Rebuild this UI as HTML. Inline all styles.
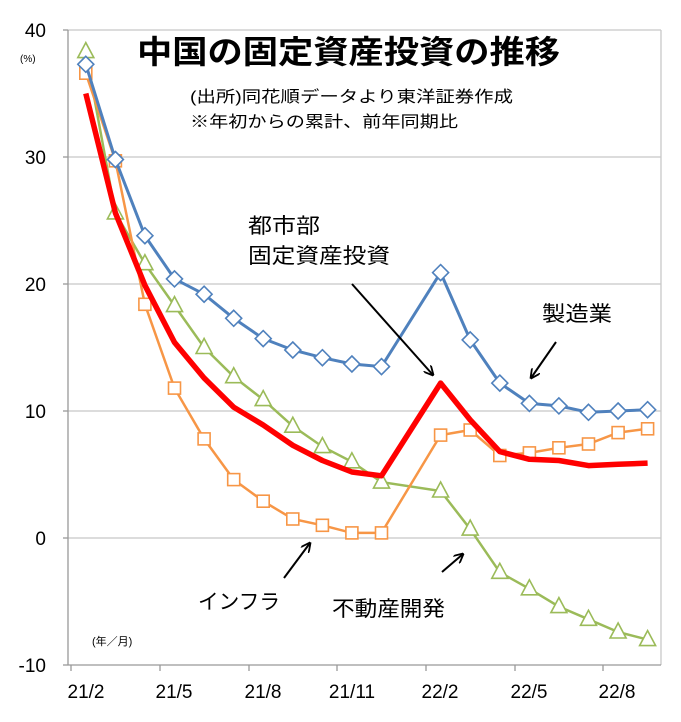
<!DOCTYPE html>
<html><head><meta charset="utf-8"><style>
html,body{margin:0;padding:0;background:#fff;}
svg{display:block;font-family:"Liberation Sans","Noto Sans CJK JP",sans-serif;}
</style></head><body>
<svg width="681" height="722" viewBox="0 0 681 722" xmlns="http://www.w3.org/2000/svg" xmlns:xlink="http://www.w3.org/1999/xlink">
<defs>
<marker id="ah" markerWidth="10" markerHeight="10" refX="9" refY="5" orient="auto" markerUnits="userSpaceOnUse">
<path d="M0,0 L10,5 L0,10" fill="none" stroke="#000" stroke-width="1.8"/></marker>
<polygon id="tri" points="0,-9 -8,6 8,6" fill="#fff" stroke="#9bbb59" stroke-width="1.6"/>
<rect id="sq" x="-6" y="-6" width="12" height="12" fill="#fff" stroke="#f79646" stroke-width="1.6"/>
<polygon id="dia" points="0,-8 8,0 0,8 -8,0" fill="#fff" stroke="#4f81bd" stroke-width="1.6"/>
</defs>
<rect x="0" y="0" width="681" height="722" fill="#fff"/>
<g stroke="#c8c8c8" stroke-width="1.3">
<line x1="68" y1="30" x2="661" y2="30"/>
<line x1="68" y1="157" x2="661" y2="157"/>
<line x1="68" y1="284" x2="661" y2="284"/>
<line x1="68" y1="411" x2="661" y2="411"/>
<line x1="68" y1="538" x2="661" y2="538"/>
<line x1="661" y1="30" x2="661" y2="665"/>
</g>
<g stroke="#999" stroke-width="1.3">
<line x1="68" y1="30" x2="68" y2="665"/>
<line x1="68" y1="665" x2="661" y2="665"/>
<line x1="63" y1="30" x2="68" y2="30"/><line x1="63" y1="157" x2="68" y2="157"/><line x1="63" y1="284" x2="68" y2="284"/><line x1="63" y1="411" x2="68" y2="411"/><line x1="63" y1="538" x2="68" y2="538"/><line x1="63" y1="665" x2="68" y2="665"/>
<line x1="71" y1="665" x2="71" y2="671"/><line x1="160" y1="665" x2="160" y2="671"/><line x1="249" y1="665" x2="249" y2="671"/><line x1="337" y1="665" x2="337" y2="671"/><line x1="426" y1="665" x2="426" y2="671"/><line x1="515" y1="665" x2="515" y2="671"/><line x1="603" y1="665" x2="603" y2="671"/>
</g>
<g font-size="19" fill="#000" text-anchor="end">
<text x="46" y="37">40</text><text x="46" y="164">30</text><text x="46" y="291">20</text><text x="46" y="418">10</text><text x="46" y="545">0</text><text x="46" y="672">-10</text>
</g>
<g font-size="19" fill="#000" text-anchor="middle">
<text x="86" y="698">21/2</text><text x="174" y="698">21/5</text><text x="263" y="698">21/8</text><text x="352" y="698">21/11</text><text x="440" y="698">22/2</text><text x="529" y="698">22/5</text><text x="617" y="698">22/8</text>
</g>
<text x="20" y="62" font-size="10">(%)</text>
<text x="92" y="645" font-size="11">(年／月)</text>

<polyline fill="none" stroke="#9bbb59" stroke-width="2.5" points="85.8,51.6 115.4,212.9 144.9,263.7 174.5,305.6 204.1,347.5 233.7,376.7 263.2,399.6 292.8,426.2 322.4,446.6 351.9,461.8 381.5,482.1 440.6,491.0 470.2,529.1 499.8,572.3 529.4,588.8 558.9,606.6 588.5,619.3 618.1,632.0 647.6,639.6"/>
<g>
<use xlink:href="#tri" x="85.8" y="51.6"/><use xlink:href="#tri" x="115.4" y="212.9"/><use xlink:href="#tri" x="144.9" y="263.7"/><use xlink:href="#tri" x="174.5" y="305.6"/><use xlink:href="#tri" x="204.1" y="347.5"/><use xlink:href="#tri" x="233.7" y="376.7"/><use xlink:href="#tri" x="263.2" y="399.6"/><use xlink:href="#tri" x="292.8" y="426.2"/><use xlink:href="#tri" x="322.4" y="446.6"/><use xlink:href="#tri" x="351.9" y="461.8"/><use xlink:href="#tri" x="381.5" y="482.1"/><use xlink:href="#tri" x="440.6" y="491.0"/><use xlink:href="#tri" x="470.2" y="529.1"/><use xlink:href="#tri" x="499.8" y="572.3"/><use xlink:href="#tri" x="529.4" y="588.8"/><use xlink:href="#tri" x="558.9" y="606.6"/><use xlink:href="#tri" x="588.5" y="619.3"/><use xlink:href="#tri" x="618.1" y="632.0"/><use xlink:href="#tri" x="647.6" y="639.6"/>
</g>

<polyline fill="none" stroke="#f79646" stroke-width="2.5" points="85.8,73.2 115.4,160.8 144.9,304.3 174.5,388.1 204.1,438.9 233.7,479.6 263.2,501.2 292.8,519.0 322.4,525.3 351.9,532.9 381.5,532.9 440.6,435.1 470.2,430.0 499.8,455.5 529.4,452.9 558.9,447.8 588.5,444.0 618.1,432.6 647.6,428.8"/>
<g>
<use xlink:href="#sq" x="85.8" y="73.2"/><use xlink:href="#sq" x="115.4" y="160.8"/><use xlink:href="#sq" x="144.9" y="304.3"/><use xlink:href="#sq" x="174.5" y="388.1"/><use xlink:href="#sq" x="204.1" y="438.9"/><use xlink:href="#sq" x="233.7" y="479.6"/><use xlink:href="#sq" x="263.2" y="501.2"/><use xlink:href="#sq" x="292.8" y="519.0"/><use xlink:href="#sq" x="322.4" y="525.3"/><use xlink:href="#sq" x="351.9" y="532.9"/><use xlink:href="#sq" x="381.5" y="532.9"/><use xlink:href="#sq" x="440.6" y="435.1"/><use xlink:href="#sq" x="470.2" y="430.0"/><use xlink:href="#sq" x="499.8" y="455.5"/><use xlink:href="#sq" x="529.4" y="452.9"/><use xlink:href="#sq" x="558.9" y="447.8"/><use xlink:href="#sq" x="588.5" y="444.0"/><use xlink:href="#sq" x="618.1" y="432.6"/><use xlink:href="#sq" x="647.6" y="428.8"/>
</g>

<polyline fill="none" stroke="#4f81bd" stroke-width="3" points="85.8,64.3 115.4,159.5 144.9,235.7 174.5,278.9 204.1,294.2 233.7,318.3 263.2,338.6 292.8,350.0 322.4,357.7 351.9,364.0 381.5,366.6 440.6,272.6 470.2,339.9 499.8,383.1 529.4,403.4 558.9,405.9 588.5,412.3 618.1,411.0 647.6,409.7"/>
<g>
<use xlink:href="#dia" x="85.8" y="64.3"/><use xlink:href="#dia" x="115.4" y="159.5"/><use xlink:href="#dia" x="144.9" y="235.7"/><use xlink:href="#dia" x="174.5" y="278.9"/><use xlink:href="#dia" x="204.1" y="294.2"/><use xlink:href="#dia" x="233.7" y="318.3"/><use xlink:href="#dia" x="263.2" y="338.6"/><use xlink:href="#dia" x="292.8" y="350.0"/><use xlink:href="#dia" x="322.4" y="357.7"/><use xlink:href="#dia" x="351.9" y="364.0"/><use xlink:href="#dia" x="381.5" y="366.6"/><use xlink:href="#dia" x="440.6" y="272.6"/><use xlink:href="#dia" x="470.2" y="339.9"/><use xlink:href="#dia" x="499.8" y="383.1"/><use xlink:href="#dia" x="529.4" y="403.4"/><use xlink:href="#dia" x="558.9" y="405.9"/><use xlink:href="#dia" x="588.5" y="412.3"/><use xlink:href="#dia" x="618.1" y="411.0"/><use xlink:href="#dia" x="647.6" y="409.7"/>
</g>

<polyline fill="none" stroke="#ff0000" stroke-width="5.5" stroke-linejoin="round" points="85.8,93.5 115.4,212.9 144.9,285.3 174.5,342.4 204.1,378.0 233.7,407.2 263.2,425.0 292.8,445.3 322.4,460.5 351.9,472.0 381.5,475.8 440.6,383.1 470.2,419.9 499.8,451.6 529.4,459.3 558.9,460.5 588.5,465.6 618.1,464.3 647.6,463.1"/>

<text x="137" y="63" font-size="32" font-weight="bold" textLength="423" lengthAdjust="spacingAndGlyphs">中国の固定資産投資の推移</text>
<text x="190" y="102" font-size="16" textLength="323" lengthAdjust="spacingAndGlyphs">(出所)同花順データより東洋証券作成</text>
<text x="190" y="127" font-size="16" textLength="268" lengthAdjust="spacingAndGlyphs">※年初からの累計、前年同期比</text>
<text x="248" y="233" font-size="21" textLength="72" lengthAdjust="spacingAndGlyphs">都市部</text>
<text x="248" y="263" font-size="21" textLength="142" lengthAdjust="spacingAndGlyphs">固定資産投資</text>
<text x="542" y="321" font-size="21" textLength="70" lengthAdjust="spacingAndGlyphs">製造業</text>
<text x="198" y="609" font-size="21" textLength="82" lengthAdjust="spacingAndGlyphs">インフラ</text>
<text x="332" y="616" font-size="21" textLength="113" lengthAdjust="spacingAndGlyphs">不動産開発</text>
<g stroke="#000" stroke-width="2" marker-end="url(#ah)">
<line x1="352" y1="284" x2="433" y2="375"/>
<line x1="556" y1="342" x2="531" y2="378"/>
<line x1="284" y1="578" x2="310" y2="543"/>
<line x1="442" y1="572" x2="463" y2="554"/>
</g>
</svg>
</body></html>
